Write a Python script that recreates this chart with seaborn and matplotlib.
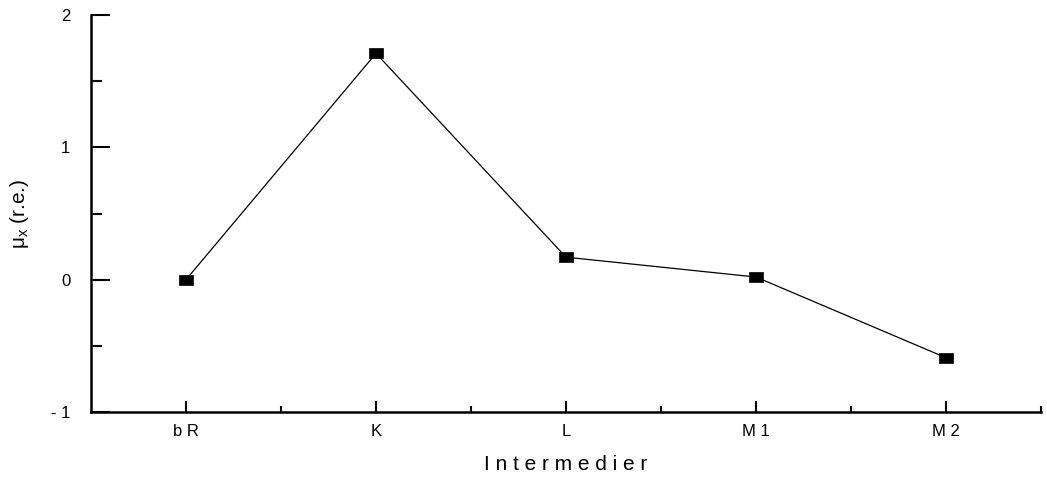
import numpy as np
import pandas as pd
import matplotlib
matplotlib.use("Agg")
import matplotlib.pyplot as plt
from matplotlib.path import Path
from matplotlib.ticker import MultipleLocator, FixedLocator
import seaborn as sns

# Data
intermediates = ["b R", "K", "L", "M 1", "M 2"]
mu_x = [0.0, 1.71, 0.17, 0.02, -0.59]
y_ticks = [-1, 0, 1, 2]
y_tick_labels = ["- 1", "0", "1", "2"]

sns.set_theme(style="ticks")
plt.rcParams["font.family"] = ["Liberation Sans", "DejaVu Sans"]
plt.rcParams["mathtext.fontset"] = "custom"
plt.rcParams["mathtext.rm"] = "Liberation Sans"
plt.rcParams["mathtext.it"] = "Liberation Sans"

df = pd.DataFrame({"pos": np.arange(len(intermediates)), "mu": mu_x})

# flat rectangular marker
rect = Path([(-1, -0.62), (1, -0.62), (1, 0.62), (-1, 0.62), (-1, -0.62)],
            [Path.MOVETO, Path.LINETO, Path.LINETO, Path.LINETO, Path.CLOSEPOLY])

fig = plt.figure(figsize=(10.47, 4.79), dpi=100)
ax = fig.add_axes([91 / 1047, 1 - 412 / 479, (1041 - 91) / 1047, (412 - 15) / 479])

sns.lineplot(data=df, x="pos", y="mu", ax=ax, color="black", linewidth=0.9,
             marker=rect, markersize=10.5, markerfacecolor="black",
             markeredgecolor="black", markeredgewidth=0.5)

ax.set_xlim(-0.5, 4.5)
ax.set_ylim(-1, 2)

ax.xaxis.set_major_locator(FixedLocator(df["pos"].tolist()))
ax.set_xticklabels(intermediates)
ax.xaxis.set_minor_locator(FixedLocator([0.5, 1.5, 2.5, 3.5, 4.5]))
ax.yaxis.set_minor_locator(MultipleLocator(0.5))
ax.set_yticks(y_ticks)
ax.set_yticklabels(y_tick_labels)

ax.tick_params(axis="y", which="major", direction="in", length=14, width=1.5,
               pad=15, labelsize=12, color="black", labelcolor="black")
ax.tick_params(axis="y", which="minor", direction="in", length=8, width=1.5,
               color="black")
ax.tick_params(axis="x", which="major", direction="in", length=8, width=1.5,
               pad=9, labelsize=12, color="black", labelcolor="black")
ax.tick_params(axis="x", which="minor", direction="in", length=4, width=1.5,
               color="black")

for side in ("top", "right"):
    ax.spines[side].set_visible(False)
for side in ("left", "bottom"):
    ax.spines[side].set_linewidth(1.8)
    ax.spines[side].set_color("black")

ax.set_xlabel("I n t e r m e d i e r", fontsize=15, labelpad=11, color="black")
ax.set_ylabel(r"$\mu_{\mathregular{x}}$ (r.e.)", fontsize=15, labelpad=14, color="black")

fig.savefig("out.png", dpi=100, facecolor="white")
